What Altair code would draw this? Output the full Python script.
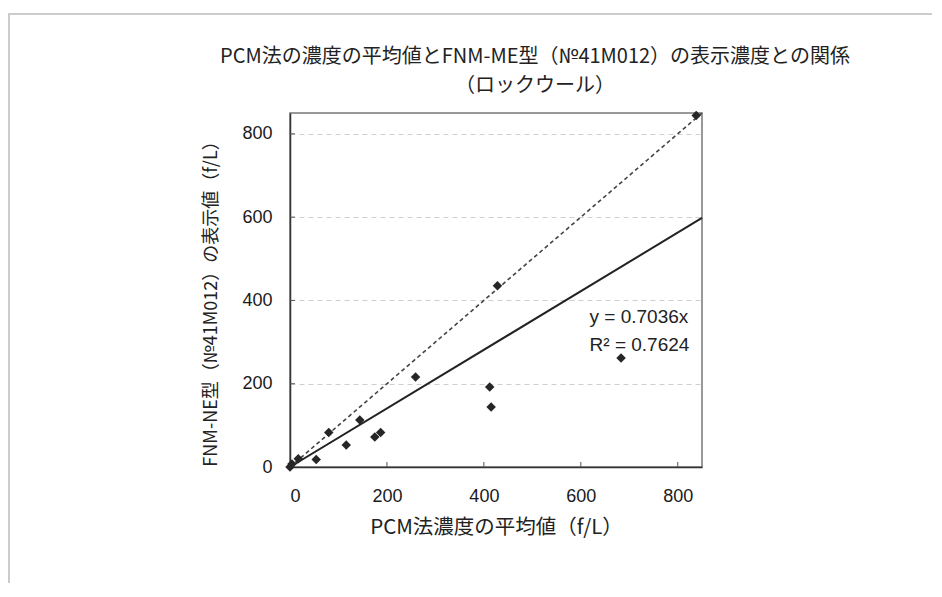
import altair as alt
import pandas as pd

# --- data ---
pcm_mean = [0, 4, 17, 54, 80, 116, 144, 175, 187, 259, 412, 415, 428, 683, 838]
fnm_value = [0, 7, 20, 18, 83, 53, 113, 72, 83, 216, 192, 144, 435, 262, 844]
tick_values = [0, 200, 400, 600, 800]
axis_max = 850
fit_slope = 0.7036
line_x = [0, 850]
eq_labels = ["y = 0.7036x", "R² = 0.7624"]
eq_x = [618, 618]
eq_y = [360, 293]

title_lines = ["PCM法の濃度の平均値とFNM-ME型（№41M012）の表示濃度との関係", "（ロックウール）"]
x_title = "PCM法濃度の平均値（f/L）"
y_title = "FNM-NE型（№41M012）の表示値（f/L）"

CJK = "Noto Sans CJK JP"
NUM = "Liberation Sans"
W, H = 412, 354

pts = pd.DataFrame({"x": pcm_mean, "y": fnm_value})
fit = pd.DataFrame({"x": line_x, "y": [v * fit_slope for v in line_x]})
ident = pd.DataFrame({"x": line_x, "y": line_x})
eq = pd.DataFrame({"label": eq_labels, "x": eq_x, "y": eq_y})
ticks = pd.DataFrame({"v": tick_values[1:]})
one = pd.DataFrame({"a": [0]})

xs = alt.Scale(domain=[0, axis_max], nice=False)
ys = alt.Scale(domain=[0, axis_max], nice=False)

xax = alt.Axis(values=tick_values, grid=False, ticks=False, labelPadding=20,
               title=x_title, titleFont=CJK, titleFontSize=20.5, titleFontWeight="normal",
               titlePadding=12, titleColor="#222")
yax = alt.Axis(values=tick_values, grid=True, gridDash=[5, 4], gridColor="#cfcfcf",
               ticks=False, labelPadding=18, title=y_title, titleFont=CJK,
               titleFontSize=18, titleFontWeight="normal", titlePadding=21, titleColor="#222",
               titleY=186)

ident_line = alt.Chart(ident).mark_line(color="#444", strokeWidth=1.6, strokeDash=[4, 3]).encode(
    x=alt.X("x:Q", scale=xs, axis=xax), y=alt.Y("y:Q", scale=ys, axis=yax))
fit_line = alt.Chart(fit).mark_line(color="#222", strokeWidth=2).encode(
    x=alt.X("x:Q", scale=xs), y=alt.Y("y:Q", scale=ys))
points = alt.Chart(pts).mark_point(shape="diamond", filled=True, size=90, color="#262626", opacity=1).encode(
    x=alt.X("x:Q", scale=xs), y=alt.Y("y:Q", scale=ys))
eq_text = alt.Chart(eq).mark_text(align="left", baseline="middle", font=NUM, fontSize=19, color="#222").encode(
    x=alt.X("x:Q", scale=xs), y=alt.Y("y:Q", scale=ys), text="label:N")
xticks = alt.Chart(ticks).mark_rule(color="#555", strokeWidth=1).encode(
    x=alt.X("v:Q", scale=xs), y=alt.value(H), y2=alt.value(H - 5))
yticks = alt.Chart(ticks).mark_rule(color="#555", strokeWidth=1).encode(
    y=alt.Y("v:Q", scale=ys), x=alt.value(0), x2=alt.value(5))
title1 = alt.Chart(one).mark_text(align="center", baseline="middle", font=CJK, fontSize=20, color="#222").encode(
    x=alt.value(245), y=alt.value(-56), text=alt.value(title_lines[0]))
title2 = alt.Chart(one).mark_text(align="center", baseline="middle", font=CJK, fontSize=20, color="#222").encode(
    x=alt.value(245), y=alt.value(-27), text=alt.value(title_lines[1]))
border_v = alt.Chart(one).mark_rule(color="#cccccc", strokeWidth=2, clip=False).encode(
    x=alt.value(-281), y=alt.value(-99), y2=alt.value(600))
border_h = alt.Chart(one).mark_rule(color="#cccccc", strokeWidth=2, clip=False).encode(
    x=alt.value(-282), x2=alt.value(700), y=alt.value(-99))

chart = alt.layer(ident_line, fit_line, points, eq_text, xticks, yticks, title1, title2,
                  border_v, border_h).properties(
    width=W, height=H,
    autosize=alt.AutoSizeParams(type="none"),
    padding={"left": 282, "top": 105, "right": 230, "bottom": 116},
    background="white",
).configure_view(stroke="#777", strokeWidth=1.5).configure_axis(
    domainColor="#333", domainWidth=1.5, labelFont=NUM, labelFontSize=18, labelColor="#1a1a1a"
)

chart.save("out.html", embed_options={"renderer": "svg", "actions": False})
